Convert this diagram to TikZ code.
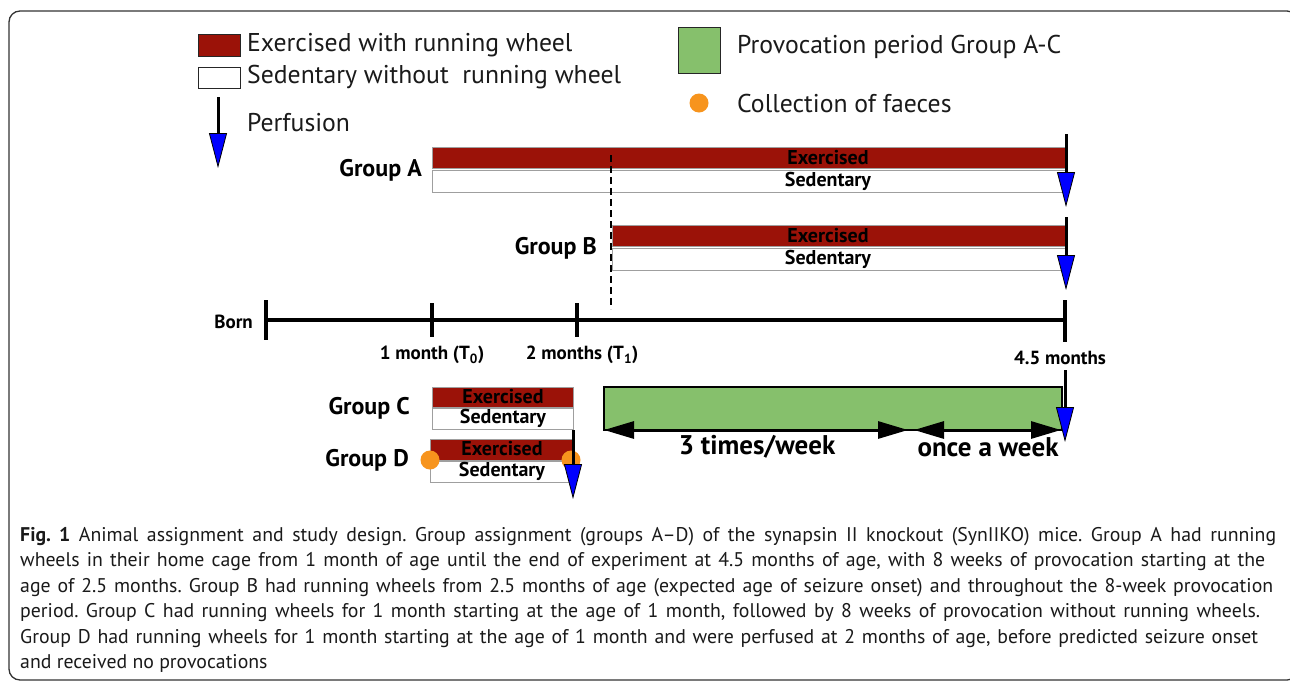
\documentclass[tikz,border=0pt]{standalone}
\usepackage{fontspec}
\setmainfont{PT Sans}
\usetikzlibrary{arrows.meta}
\frenchspacing
\definecolor{exred}{HTML}{9B1208}
\definecolor{provgreen}{HTML}{86C06C}
\definecolor{faecesorange}{HTML}{F7941D}
\definecolor{perfblue}{HTML}{0000FF}
\definecolor{framegray}{HTML}{333333}
\definecolor{textblack}{HTML}{1A1A1A}
\begin{document}
\begin{tikzpicture}[x=1pt,y=-1pt,
  bar/.style={draw=gray!75, line width=0.8pt, inner sep=0pt, outer sep=0pt, anchor=north west},
  exbar/.style={bar, fill=exred},
  sedbar/.style={bar, fill=white},
  bartext/.style={inner sep=0pt, font=\fontsize{20}{20}\selectfont\bfseries, text=black},
  legbox/.style={draw=black!85, line width=1pt, inner sep=0pt, outer sep=0pt, anchor=north west},
  legtext/.style={anchor=west, inner sep=0pt, font=\fontsize{25.7}{26}\selectfont, text=textblack},
  grouplabel/.style={anchor=east, inner sep=0pt, font=\fontsize{24}{24}\selectfont\bfseries},
  tlabel/.style={inner sep=0pt, font=\fontsize{19}{19}\selectfont\bfseries},
  wlabel/.style={inner sep=0pt, font=\fontsize{27}{27}\selectfont\bfseries},
  perf/.style={line width=3pt, black, -{Triangle[width=18pt, length=35pt, fill=perfblue, line width=0.8pt]}},
  timeline/.style={line width=4.5pt, black},
  tickmark/.style={line width=3.5pt, black},
  dbl/.style={line width=3pt, black, {Triangle[width=17pt, length=30pt]}-{Triangle[width=17pt, length=30pt]}},
  dot/.style={circle, fill=faecesorange, inner sep=0pt, minimum size=19pt},
  provbox/.style={draw=black, line width=1.3pt, fill=provgreen, inner sep=0pt, outer sep=0pt, anchor=north west}
]
\useasboundingbox (0,0) rectangle (1290,681);
\fill[white] (0,0) rectangle (1290,681);
% frame
\draw[framegray, line width=1.3pt, rounded corners=11pt] (9,11) rectangle (1298,680);

% legend
\node[legbox, fill=exred, minimum width=42pt, minimum height=22pt] (legEx) at (198,34) {};
\node[legtext] (legExT) at (247,45) {Exercised with running wheel};
\node[legbox, fill=white, minimum width=42pt, minimum height=21pt] (legSed) at (198,67) {};
\node[legtext] (legSedT) at (247,77) {Sedentary without\ \ running wheel};
\coordinate (legP0) at (218,97);
\coordinate (legP1) at (218,168);
\draw[perf] (legP0) -- (legP1);
\node[legtext] (legPT) at (247,123) {Perfusion};
\node[legbox, fill=provgreen, minimum width=42pt, minimum height=46pt] (legProv) at (678,27) {};
\node[legtext] (legProvT) at (737,47) {Provocation period Group A-C};
\node[dot] (legDot) at (699,103) {};
\node[legtext] (legDotT) at (737,103) {Collection of faeces};

% Group A
\node[grouplabel] (gA) at (422,170) {Group A};
\node[exbar, minimum width=633pt, minimum height=21pt] (aEx) at (432,147) {};
\node[sedbar, minimum width=633pt, minimum height=22pt] (aSed) at (432,170) {};
\node[bartext] (aExT) at (828,158) {Exercised};
\node[bartext] (aSedT) at (828,181) {Sedentary};
\coordinate (pA0) at (1066,134);
\coordinate (pA1) at (1066,207);
\draw[perf] (pA0) -- (pA1);

% Group B
\node[grouplabel] (gB) at (597,248) {Group B};
\node[exbar, minimum width=453pt, minimum height=21pt] (bEx) at (612,225) {};
\node[sedbar, minimum width=453pt, minimum height=22pt] (bSed) at (612,248) {};
\node[bartext] (bExT) at (828,236) {Exercised};
\node[bartext] (bSedT) at (828,259) {Sedentary};
\coordinate (pB0) at (1066,217);
\coordinate (pB1) at (1066,290);
\draw[perf] (pB0) -- (pB1);

% dashed start of group B
\coordinate (dTop) at (611,155);
\coordinate (dBot) at (611,309);
\draw[line width=2.2pt, dash pattern=on 7pt off 4pt] (dTop) -- (dBot);

% timeline
\coordinate (born) at (266,320);
\coordinate (t0) at (432,320);
\coordinate (t1) at (577,320);
\coordinate (tend) at (1065,320);
\draw[timeline] (born) -- (tend);
\draw[tickmark] (born) ++(0,-20) -- ++(0,40);
\draw[tickmark] (t0) ++(0,-17) -- ++(0,34);
\draw[tickmark] (t1) ++(0,-17) -- ++(0,34);
\draw[tickmark] (tend) ++(0,-20) -- ++(0,42);
\node[tlabel, anchor=east] (bornL) at (253,322) {Born};
\node[tlabel] (t0L) at (432,355) {1 month (T\textsubscript{0})};
\node[tlabel] (t1L) at (582,355) {2 months (T\textsubscript{1})};
\node[tlabel] (endL) at (1060,358) {4.5 months};

% Group C
\node[grouplabel] (gC) at (410,408) {Group C};
\node[exbar, minimum width=141pt, minimum height=20pt] (cEx) at (432,387) {};
\node[sedbar, minimum width=141pt, minimum height=21pt] (cSed) at (432,408) {};
\node[bartext] (cExT) at (503,397) {Exercised};
\node[bartext] (cSedT) at (503,418) {Sedentary};

% Group D
\node[grouplabel] (gD) at (409,460) {Group D};
\node[exbar, minimum width=142pt, minimum height=21pt] (dEx) at (430,439) {};
\node[sedbar, minimum width=142pt, minimum height=21pt] (dSed) at (430,461) {};
\node[bartext] (dExT) at (502,449) {Exercised};
\node[bartext] (dSedT) at (502,471) {Sedentary};
\node[dot] (dDot0) at (430,460) {};
\node[dot] (dDot1) at (571,460) {};
\coordinate (pD0) at (573,430);
\coordinate (pD1) at (573,499);
\draw[perf] (pD0) -- (pD1);

% provocation period
\node[provbox, minimum width=458pt, minimum height=43pt] (prov) at (604,387) {};
\coordinate (pE0) at (1065,370);
\coordinate (pE1) at (1065,442);
\draw[perf] (pE0) -- (pE1);
\coordinate (w0) at (604,430);
\coordinate (w1) at (908,430);
\coordinate (w2) at (914,430);
\coordinate (w3) at (1061,430);
\draw[dbl] (w0) -- (w1);
\draw[dbl] (w2) -- (w3);
\node[wlabel] (wl1) at (757,447) {3 times/week};
\node[wlabel] (wl2) at (988,447) {once a week};

% caption
\node[anchor=north west, inner sep=0pt, align=left, text=textblack,
  font=\fontsize{19.8}{25.5}\selectfont\frenchspacing] (cap) at (20,527) {%
\makebox[1256pt][s]{\textbf{Fig. 1} Animal assignment and study design. Group assignment (groups A–D) of the synapsin II knockout (SynIIKO) mice. Group A had running}\\
\makebox[1245pt][s]{wheels in their home cage from 1 month of age until the end of experiment at 4.5 months of age, with 8 weeks of provocation starting at the}\\
\makebox[1253pt][s]{age of 2.5 months. Group B had running wheels from 2.5 months of age (expected age of seizure onset) and throughout the 8-week provocation}\\
\makebox[1240pt][s]{period. Group C had running wheels for 1 month starting at the age of 1 month, followed by 8 weeks of provocation without running wheels.}\\
\makebox[1238pt][s]{Group D had running wheels for 1 month starting at the age of 1 month and were perfused at 2 months of age, before predicted seizure onset}\\
and received no provocations};
\end{tikzpicture}
\end{document}
